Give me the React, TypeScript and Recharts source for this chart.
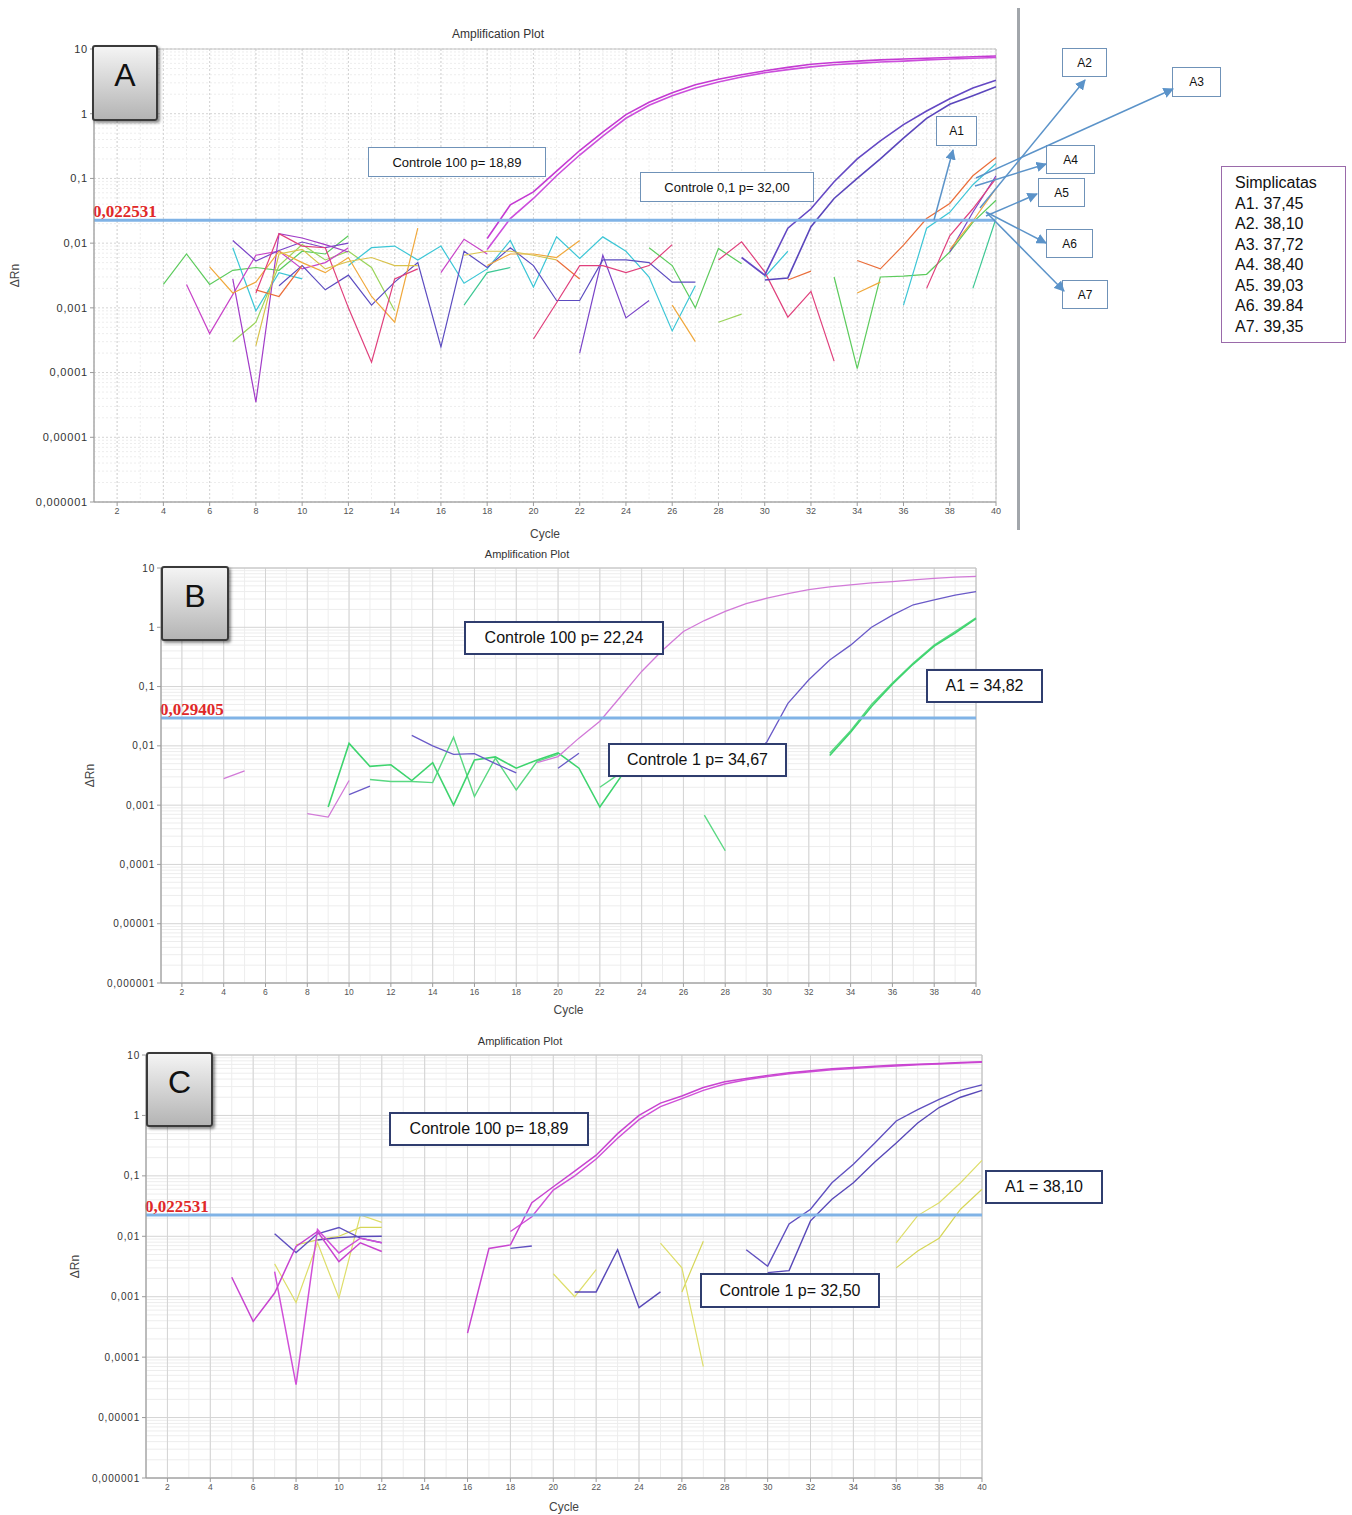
import { LineChart, Line, XAxis, YAxis, CartesianGrid, ReferenceLine, ReferenceArea } from 'recharts';

// each series is a list of runs: [first cycle, values...]
type Seg = [number, number[]];

const CYCLES = [1, 2, 3, 4, 5, 6, 7, 8, 9, 10, 11, 12, 13, 14, 15, 16, 17, 18, 19, 20, 21, 22, 23, 24, 25, 26, 27, 28, 29, 30, 31, 32, 33, 34, 35, 36, 37, 38, 39, 40];
const X_TICKS = [2, 4, 6, 8, 10, 12, 14, 16, 18, 20, 22, 24, 26, 28, 30, 32, 34, 36, 38, 40];
const Y_TICKS = [0.000001, 0.00001, 0.0001, 0.001, 0.01, 0.1, 1, 10];
const Y_TICK_LABELS = ['0,000001', '0,00001', '0,0001', '0,001', '0,01', '0,1', '1', '10'];

// ---- panel A ----
const A_CTRL100_1: Seg[] = [[18, [0.0118, 0.039, 0.062, 0.13, 0.27, 0.52, 0.97, 1.5, 2.1, 2.8, 3.4, 4.0, 4.6, 5.2, 5.8, 6.2, 6.5, 6.8, 7.0, 7.2, 7.4, 7.6, 7.8]]];
const A_CTRL100_2: Seg[] = [[18, [0.008, 0.024, 0.049, 0.11, 0.23, 0.45, 0.85, 1.35, 1.9, 2.5, 3.1, 3.7, 4.3, 4.8, 5.3, 5.7, 6.0, 6.3, 6.5, 6.8, 7.0, 7.2, 7.4]]];
const A_CTRL01_1: Seg[] = [[29, [0.006, 0.0032, 0.017, 0.034, 0.089, 0.2, 0.38, 0.68, 1.1, 1.7, 2.5, 3.3]]];
const A_CTRL01_2: Seg[] = [[30, [0.0027, 0.0029, 0.018, 0.049, 0.1, 0.2, 0.42, 0.85, 1.4, 1.9, 2.6]]];
const A_GREEN: Seg[] = [
  [4, [0.0023, 0.0068, 0.0023, 0.0038, 0.0042, 0.0038, 0.0075, 0.0068, 0.013]],
  [25, [0.0085, 0.0045, 0.001, 0.0083, 0.0048]],
  [33, [0.003, 0.000115, 0.003, 0.0031, 0.0033, 0.0073, 0.021, 0.046]],
];
const A_LIME: Seg[] = [[7, [0.0003, 0.0006, 0.0045, 0.0095, 0.0055, 0.0075, 0.0042, 0.0009]], [28, [0.0006, 0.0008]]];
const A_CYAN: Seg[] = [
  [7, [0.0085, 0.0009, 0.0035, 0.0028]],
  [12, [0.0045, 0.0085, 0.009, 0.0055, 0.009, 0.0024, 0.004, 0.011, 0.0021, 0.0125, 0.0058, 0.0125, 0.0075, 0.003, 0.00044, 0.0022]],
  [30, [0.003, 0.0075]],
  [36, [0.0011, 0.017, 0.03, 0.08, 0.17]],
];
const A_MAGENTA: Seg[] = [[5, [0.0023, 0.0004, 0.0016, 0.0065, 0.0075, 0.004, 0.005, 0.0085]], [16, [0.0035, 0.0115, 0.0068]]];
const A_VIOLET: Seg[] = [[7, [0.011, 0.0053, 0.0077, 0.0104, 0.0085, 0.01]], [22, [0.0002, 0.0065, 0.0007, 0.0013]], [38, [0.0073, 0.03, 0.11]]];
const A_PURPLE: Seg[] = [[7, [0.0028, 0.000035, 0.014, 0.012, 0.0095, 0.0073]]];
const A_INDIGO: Seg[] = [[9, [0.0022, 0.0045, 0.0019, 0.0032, 0.0011, 0.0025, 0.005, 0.00025, 0.0075, 0.0042, 0.0085, 0.0045, 0.0013, 0.0013, 0.0055, 0.0055, 0.005, 0.0025, 0.0025]]];
const A_ORANGE: Seg[] = [
  [6, [0.0043, 0.0017, 0.0025, 0.0075, 0.005, 0.0035, 0.006, 0.0015, 0.0006, 0.017]],
  [18, [0.0045, 0.0068, 0.0068, 0.006, 0.011]],
  [26, [0.0011, 0.0003]],
  [34, [0.0017, 0.0025]],
  [38, [0.008, 0.022, 0.07]],
];
const A_VERMILION: Seg[] = [[8, [0.0019, 0.0015, 0.0045]], [21, [0.0055, 0.0028]], [31, [0.0027, 0.0037]], [34, [0.0054, 0.004, 0.0093, 0.024, 0.041, 0.11, 0.21]]];
const A_ROSE: Seg[] = [
  [8, [0.0017, 0.014, 0.009, 0.0085, 0.001, 0.000145, 0.0028, 0.004]],
  [20, [0.00033, 0.0012, 0.0045, 0.0045, 0.0035, 0.0045, 0.0095]],
  [28, [0.0055, 0.0105, 0.0036, 0.00072, 0.0018, 0.00015]],
  [37, [0.002, 0.013, 0.034, 0.1]],
];
const A_TEAL: Seg[] = [[17, [0.0011, 0.0035, 0.0042]], [39, [0.002, 0.024]]];
const A_GOLD: Seg[] = [[8, [0.00026, 0.0068, 0.008, 0.004, 0.0052, 0.006, 0.0045, 0.0045]], [17, [0.0065, 0.0075, 0.0075, 0.0065, 0.0055]]];

// ---- panel B ----
const B_CTRL100: Seg[] = [
  [4, [0.0028, 0.0038]],
  [8, [0.00072, 0.00063, 0.0026]],
  [19, [0.0052, 0.0066, 0.0135, 0.026, 0.068, 0.18, 0.41, 0.85, 1.3, 1.86, 2.5, 3.1, 3.7, 4.3, 4.8, 5.2, 5.6, 5.9, 6.3, 6.7, 7.0, 7.2]],
];
const B_CTRL1: Seg[] = [
  [10, [0.0015, 0.0021]],
  [13, [0.015, 0.01, 0.0072, 0.0074, 0.005, 0.0035]],
  [20, [0.0042, 0.0075]],
  [29, [0.005, 0.0118, 0.052, 0.13, 0.28, 0.5, 1.0, 1.6, 2.4, 2.9, 3.5, 4.0]],
];
const B_A1: Seg[] = [
  [9, [0.00093, 0.011, 0.0045, 0.0048, 0.0026, 0.0052, 0.001, 0.0058, 0.0065, 0.0042, 0.0058, 0.0076]],
  [21, [0.0042, 0.00093, 0.003]],
  [33, [0.0069, 0.017, 0.046, 0.11, 0.24, 0.48, 0.8, 1.4]],
];
const B_A1_REP: Seg[] = [
  [11, [0.0027, 0.0025, 0.0025, 0.0024, 0.014, 0.0014, 0.0062, 0.0018, 0.0055, 0.0072]],
  [22, [0.002, 0.0035]],
  [27, [0.00068, 0.00017]],
  [33, [0.0075, 0.018, 0.05, 0.115, 0.25, 0.5, 0.85, 1.45]],
];

// ---- panel C ----
const C_CTRL100_1: Seg[] = [
  [5, [0.0021, 0.00039, 0.00115, 0.0068, 0.012, 0.0038, 0.0078, 0.0056]],
  [16, [0.00025, 0.0063, 0.0072, 0.036, 0.066, 0.12, 0.22, 0.5, 1.0, 1.6, 2.1, 2.9, 3.6, 4.1, 4.6, 5.1, 5.5, 5.9, 6.2, 6.5, 6.8, 7.0, 7.2, 7.5, 7.7]],
];
const C_CTRL100_2: Seg[] = [
  [7, [0.0026, 0.000035, 0.013, 0.0053, 0.0093, 0.0078]],
  [18, [0.012, 0.021, 0.058, 0.1, 0.19, 0.42, 0.85, 1.4, 1.9, 2.6, 3.3, 3.9, 4.4, 4.9, 5.3, 5.7, 6.0, 6.3, 6.6, 6.9, 7.1, 7.4, 7.6]],
];
const C_CTRL1_1: Seg[] = [
  [7, [0.011, 0.0054, 0.011, 0.014, 0.0093, 0.0078]],
  [18, [0.0063, 0.0069]],
  [29, [0.006, 0.0032, 0.016, 0.028, 0.077, 0.155, 0.35, 0.81, 1.25, 1.85, 2.6, 3.2]],
];
const C_CTRL1_2: Seg[] = [
  [9, [0.0087, 0.0095, 0.0099, 0.01]],
  [21, [0.0012, 0.0012, 0.006, 0.00066, 0.0012]],
  [30, [0.0025, 0.0027, 0.018, 0.041, 0.077, 0.17, 0.35, 0.75, 1.35, 2.0, 2.6]],
];
const C_A1: Seg[] = [
  [7, [0.0035, 0.0008, 0.0078, 0.00095, 0.0225, 0.017]],
  [20, [0.0024, 0.001, 0.0028]],
  [25, [0.0077, 0.003, 0.00007]],
  [36, [0.0078, 0.022, 0.036, 0.077, 0.18]],
];
const C_A1_REP: Seg[] = [[8, [0.0072, 0.0087, 0.01, 0.014, 0.014]], [26, [0.0012, 0.0083]], [36, [0.003, 0.0057, 0.0093, 0.028, 0.06]]];

const SIMPLICATAS = ['A1. 37,45', 'A2. 38,10', 'A3. 37,72', 'A4. 38,40', 'A5. 39,03', 'A6. 39.84', 'A7. 39,35'];

type Series = { key: string; color: string; width: number; segs: Seg[] };

const SERIES_A: Series[] = [
  { key: 'green', color: '#5ccb5c', width: 1.2, segs: A_GREEN },
  { key: 'lime', color: '#9ad45a', width: 1.2, segs: A_LIME },
  { key: 'cyan', color: '#3cc6d6', width: 1.2, segs: A_CYAN },
  { key: 'magenta', color: '#c844c8', width: 1.2, segs: A_MAGENTA },
  { key: 'violet', color: '#7a44c8', width: 1.2, segs: A_VIOLET },
  { key: 'purple', color: '#a23cc8', width: 1.2, segs: A_PURPLE },
  { key: 'indigo', color: '#5c4cc0', width: 1.2, segs: A_INDIGO },
  { key: 'orange', color: '#f0a83c', width: 1.2, segs: A_ORANGE },
  { key: 'vermilion', color: '#ea6e3a', width: 1.2, segs: A_VERMILION },
  { key: 'rose', color: '#e0407c', width: 1.2, segs: A_ROSE },
  { key: 'teal', color: '#3ec894', width: 1.2, segs: A_TEAL },
  { key: 'gold', color: '#d8c24c', width: 1.2, segs: A_GOLD },
  { key: 'c100a', color: '#c43ad2', width: 1.6, segs: A_CTRL100_1 },
  { key: 'c100b', color: '#cc4edc', width: 1.6, segs: A_CTRL100_2 },
  { key: 'c01a', color: '#6448c4', width: 1.6, segs: A_CTRL01_1 },
  { key: 'c01b', color: '#5a46bc', width: 1.6, segs: A_CTRL01_2 },
];

const SERIES_B: Series[] = [
  { key: 'a1rep', color: '#5ad882', width: 1.4, segs: B_A1_REP },
  { key: 'a1', color: '#3ed46e', width: 1.6, segs: B_A1 },
  { key: 'c1', color: '#6a5ac8', width: 1.3, segs: B_CTRL1 },
  { key: 'c100', color: '#d27ad8', width: 1.3, segs: B_CTRL100 },
];

const SERIES_C: Series[] = [
  { key: 'a1rep', color: '#d6d658', width: 1.2, segs: C_A1_REP },
  { key: 'a1', color: '#dede6a', width: 1.2, segs: C_A1 },
  { key: 'c1b', color: '#5848b8', width: 1.4, segs: C_CTRL1_2 },
  { key: 'c1a', color: '#6050c0', width: 1.4, segs: C_CTRL1_1 },
  { key: 'c100b', color: '#d050d8', width: 1.5, segs: C_CTRL100_2 },
  { key: 'c100a', color: '#c844d0', width: 1.5, segs: C_CTRL100_1 },
];

// grid lines at 2..9 of every decade
const MINOR_Y = Y_TICKS.slice(0, -1).flatMap((d) => [2, 3, 4, 5, 6, 7, 8, 9].map((m) => m * d));

function buildRows(series: Series[]) {
  return CYCLES.map((c) => {
    const row: Record<string, number | null> = { cycle: c };
    series.forEach((s) => {
      row[s.key] = null;
      s.segs.forEach(([start, vals]) => {
        const i = c - start;
        if (i >= 0 && i < vals.length) row[s.key] = vals[i];
      });
    });
    return row;
  });
}

const fmtY = (v: number) => Y_TICK_LABELS[Y_TICKS.indexOf(v)] ?? '';

const thresholdLabel = (text: string) => (props: any) => {
  const vb = props.viewBox || {};
  return (
    <text x={vb.x - 1} y={vb.y - 3} fill="#e02828" fontFamily="'Liberation Serif', serif" fontWeight="bold" fontSize={17}>
      {text}
    </text>
  );
};

const cycleLabel = (dy: number) => (props: any) => {
  const vb = props.viewBox || {};
  return (
    <text x={vb.x + vb.width / 2} y={vb.y + dy} textAnchor="middle" fill="#444" fontSize={12} fontFamily="'Liberation Sans', Arial">
      Cycle
    </text>
  );
};

const deltaLabel = (off: number) => (props: any) => {
  const vb = props.viewBox || {};
  const x = vb.x + off;
  const y = vb.y + vb.height / 2;
  return (
    <text x={x} y={y} transform={`rotate(-90 ${x} ${y})`} textAnchor="middle" dominantBaseline="central" fill="#444" fontSize={12} fontFamily="'Liberation Sans', Arial">
      ΔRn
    </text>
  );
};

interface PanelCfg {
  left: number;
  top: number;
  width: number;
  height: number;
  margin: { top: number; right: number; bottom: number; left: number };
  xAxisHeight: number;
  series: Series[];
  threshold: number;
  thresholdText: string;
  dash?: string;
  yTickSize: number;
  xTickSize: number;
  cycleDy: number;
  deltaOff: number;
}

function Panel({ p }: { p: PanelCfg }) {
  const rows = buildRows(p.series);
  return (
    <div style={{ position: 'absolute', left: p.left, top: p.top }}>
      <LineChart width={p.width} height={p.height} data={rows} margin={p.margin}>
        <CartesianGrid horizontalValues={MINOR_Y} verticalValues={CYCLES} stroke="#ededed" strokeDasharray={p.dash} />
        <CartesianGrid horizontalValues={Y_TICKS} verticalValues={X_TICKS} stroke="#d4d4d4" strokeDasharray={p.dash} />
        <XAxis
          type="number"
          dataKey="cycle"
          domain={[1, 40]}
          ticks={X_TICKS}
          interval={0}
          height={p.xAxisHeight}
          tickSize={4}
          stroke="#9a9a9a"
          tick={{ fontSize: p.xTickSize, fill: '#555', fontFamily: "'Liberation Sans', Arial" }}
          label={cycleLabel(p.cycleDy)}
        />
        <YAxis
          type="number"
          scale="log"
          domain={[0.000001, 10]}
          ticks={Y_TICKS}
          interval={0}
          allowDataOverflow
          width={88}
          tickSize={4}
          stroke="#9a9a9a"
          tickFormatter={fmtY}
          tick={{ fontSize: p.yTickSize, fill: '#333', letterSpacing: 0.8, fontFamily: "'Liberation Sans', Arial" }}
          label={deltaLabel(p.deltaOff)}
        />
        <ReferenceArea x1={1} x2={40} y1={0.000001} y2={10} fill="none" stroke="#c4c4c4" />
        {p.series.map((s) => (
          <Line
            key={s.key}
            type="linear"
            dataKey={s.key}
            stroke={s.color}
            strokeWidth={s.width}
            dot={false}
            activeDot={false}
            connectNulls={false}
            isAnimationActive={false}
          />
        ))}
        <ReferenceLine y={p.threshold} stroke="#80b3e6" strokeWidth={3} label={thresholdLabel(p.thresholdText)} />
      </LineChart>
    </div>
  );
}

const PANEL_A: PanelCfg = {
  left: 0, top: 0, width: 1010, height: 542,
  margin: { top: 49, right: 14, bottom: 15, left: 6 },
  xAxisHeight: 25, series: SERIES_A, threshold: 0.022531, thresholdText: '0,022531',
  dash: '2 2', yTickSize: 11, xTickSize: 9, cycleDy: 36, deltaOff: 9,
};
const PANEL_B: PanelCfg = {
  left: 0, top: 540, width: 1000, height: 480,
  margin: { top: 28, right: 24, bottom: 0, left: 73 },
  xAxisHeight: 37, series: SERIES_B, threshold: 0.029405, thresholdText: '0,029405',
  yTickSize: 10, xTickSize: 8.5, cycleDy: 31, deltaOff: 17,
};
const PANEL_C: PanelCfg = {
  left: 0, top: 1030, width: 1000, height: 485,
  margin: { top: 25, right: 18, bottom: 0, left: 58 },
  xAxisHeight: 37, series: SERIES_C, threshold: 0.022531, thresholdText: '0,022531',
  yTickSize: 10, xTickSize: 8.5, cycleDy: 33, deltaOff: 17,
};

const font = "'Liberation Sans', Arial, sans-serif";

function Box({ x, y, w, h, text, size, border }: { x: number; y: number; w: number; h: number; text: string; size: number; border: string }) {
  return (
    <div
      style={{
        position: 'absolute', left: x, top: y, width: w, height: h, boxSizing: 'border-box',
        border, background: '#fff', display: 'flex', alignItems: 'center', justifyContent: 'center',
        fontFamily: font, fontSize: size, color: '#111', whiteSpace: 'nowrap',
      }}
    >
      {text}
    </div>
  );
}

function Letter({ x, y, w, h, text }: { x: number; y: number; w: number; h: number; text: string }) {
  return (
    <div
      style={{
        position: 'absolute', left: x, top: y, width: w, height: h, boxSizing: 'border-box',
        border: '2px solid #3a3a3a', borderRadius: 3,
        background: 'linear-gradient(#f4f4f4, #b4b4b4)', boxShadow: '2px 2px 3px rgba(0,0,0,0.45)',
        display: 'flex', alignItems: 'flex-start', justifyContent: 'center', paddingTop: 10,
        fontFamily: font, fontSize: 32, color: '#111',
      }}
    >
      {text}
    </div>
  );
}

function Title({ x, y, size }: { x: number; y: number; size: number }) {
  return (
    <div style={{ position: 'absolute', left: x - 100, top: y - size / 2 - 2, width: 200, textAlign: 'center', fontFamily: font, fontSize: size, color: '#333' }}>
      Amplification Plot
    </div>
  );
}

const ARROWS = [
  [934, 220, 953, 150],
  [980, 208, 1085, 80],
  [976, 178, 1173, 89],
  [975, 186, 1046, 164],
  [986, 216, 1037, 194],
  [986, 212, 1046, 243],
  [986, 212, 1064, 291],
];

export default function App() {
  const lightBorder = '1.5px solid #6f92b8';
  const darkBorder = '2px solid #2f3d6e';
  return (
    <div style={{ position: 'absolute', left: 0, top: 0, width: 1352, height: 1515, background: '#fff', overflow: 'hidden' }}>
      <Panel p={PANEL_A} />
      <Panel p={PANEL_B} />
      <Panel p={PANEL_C} />

      <Title x={498} y={35} size={12} />
      <Title x={527} y={555} size={11} />
      <Title x={520} y={1042} size={11} />

      <div style={{ position: 'absolute', left: 1017, top: 8, width: 3, height: 522, background: '#a2a6ab' }} />

      <Letter x={92} y={45} w={66} h={76} text="A" />
      <Letter x={161} y={566} w={68} h={75} text="B" />
      <Letter x={146} y={1052} w={67} h={75} text="C" />

      <Box x={368} y={147} w={178} h={30} text="Controle 100 p= 18,89" size={13} border={lightBorder} />
      <Box x={640} y={172} w={174} h={30} text="Controle 0,1 p= 32,00" size={13} border={lightBorder} />
      <Box x={936} y={116} w={41} h={30} text="A1" size={12} border={lightBorder} />
      <Box x={1062} y={48} w={45} h={29} text="A2" size={12} border={lightBorder} />
      <Box x={1172} y={67} w={49} h={30} text="A3" size={12} border={lightBorder} />
      <Box x={1046} y={145} w={49} h={29} text="A4" size={12} border={lightBorder} />
      <Box x={1038} y={178} w={47} h={29} text="A5" size={12} border={lightBorder} />
      <Box x={1046} y={229} w={47} h={29} text="A6" size={12} border={lightBorder} />
      <Box x={1062} y={280} w={46} h={29} text="A7" size={12} border={lightBorder} />

      <svg width={1352} height={540} style={{ position: 'absolute', left: 0, top: 0, pointerEvents: 'none' }}>
        <defs>
          <marker id="arr" viewBox="0 0 10 10" refX="9" refY="5" markerWidth="7" markerHeight="7" orient="auto">
            <path d="M0,0 L10,5 L0,10 z" fill="#5b93c9" />
          </marker>
        </defs>
        {ARROWS.map(([x1, y1, x2, y2], i) => (
          <line key={i} x1={x1} y1={y1} x2={x2} y2={y2} stroke="#5b93c9" strokeWidth={1.5} markerEnd="url(#arr)" />
        ))}
      </svg>

      <div
        style={{
          position: 'absolute', left: 1221, top: 166, width: 125, height: 177, boxSizing: 'border-box',
          border: '1.5px solid #9a6aaa', padding: '6px 0 0 13px', fontFamily: font, fontSize: 16, lineHeight: '20.5px', color: '#111',
        }}
      >
        <div>Simplicatas</div>
        {SIMPLICATAS.map((t) => (
          <div key={t}>{t}</div>
        ))}
      </div>

      <Box x={464} y={621} w={200} h={34} text="Controle 100 p= 22,24" size={16} border={darkBorder} />
      <Box x={926} y={669} w={117} h={34} text="A1 = 34,82" size={16} border={darkBorder} />
      <Box x={608} y={743} w={179} h={34} text="Controle 1 p= 34,67" size={16} border={darkBorder} />

      <Box x={389} y={1112} w={200} h={34} text="Controle 100 p= 18,89" size={16} border={darkBorder} />
      <Box x={985} y={1170} w={118} h={34} text="A1 = 38,10" size={16} border={darkBorder} />
      <Box x={700} y={1273} w={180} h={35} text="Controle 1 p= 32,50" size={16} border={darkBorder} />
    </div>
  );
}
